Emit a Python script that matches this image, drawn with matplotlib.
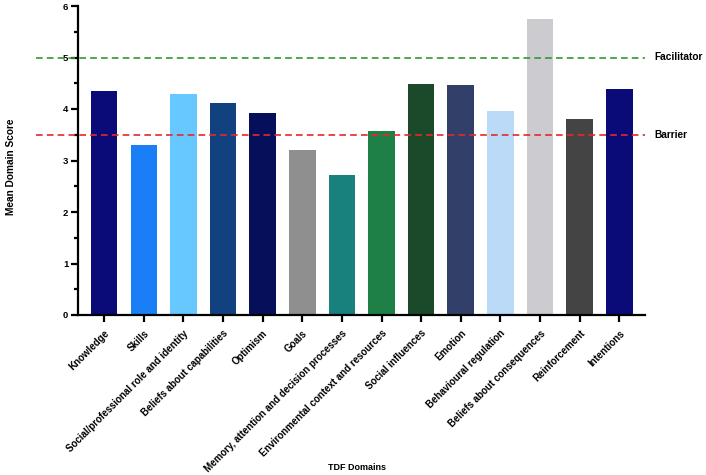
import numpy as np
import matplotlib.pyplot as plt
from matplotlib.ticker import MultipleLocator
from matplotlib.transforms import ScaledTranslation

plt.rcParams['font.family'] = ['Liberation Sans', 'DejaVu Sans']
plt.rcParams['font.weight'] = 'bold'

# TDF domains and mean scores
domains = ['Knowledge', 'Skills', 'Social/professional role and identity',
           'Beliefs about capabilities', 'Optimism', 'Goals',
           'Memory, attention and decision processes',
           'Environmental context and resources', 'Social influences',
           'Emotion', 'Behavioural regulation', 'Beliefs about consequences',
           'Reinforcement', 'Intentions']
scores = [4.35, 3.31, 4.29, 4.11, 3.92, 3.20, 2.72, 3.57, 4.49, 4.47,
          3.96, 5.74, 3.81, 4.38]
colors = ['#0a0a78', '#1a7ff7', '#66c8ff', '#11417f', '#06105a', '#8f8f8f',
          '#18807d', '#1e7f47', '#1a4a2a', '#323f68', '#badaf7', '#cbcbd0',
          '#444444', '#0a0a78']

facilitator = 5.0
barrier = 3.5

fig = plt.figure(figsize=(7.06, 4.75), dpi=100)
ax = fig.add_axes([78/706, 1 - 315/475, 567/706, 309/475])

x = np.arange(len(domains))
ax.bar(x, scores, width=0.67, color=colors, zorder=2)

# threshold lines, extended a bit left of the y axis like the original
ax.axhline(facilitator, xmin=-0.074, xmax=1, color='#2e9a2e', ls=(0, (4, 2.5)),
           lw=1.2, clip_on=False, zorder=3)
ax.axhline(barrier, xmin=-0.074, xmax=1, color='#e8262a', ls=(0, (4, 2.5)),
           lw=1.2, clip_on=False, zorder=3)
ax.text(1.016, facilitator, 'Facilitator', transform=ax.get_yaxis_transform(),
        va='center', ha='left', fontsize=7.3, fontweight='bold')
ax.text(1.016, barrier, 'Barrier', transform=ax.get_yaxis_transform(),
        va='center', ha='left', fontsize=7.3, fontweight='bold')

ax.set_xlim(-0.66, 13.65)
ax.set_ylim(0, 6)
ax.yaxis.set_major_locator(MultipleLocator(1))
ax.yaxis.set_minor_locator(MultipleLocator(0.5))

ax.set_xticks(x)
ax.set_xticklabels(domains, rotation=45, ha='right', va='top',
                   rotation_mode='anchor', fontsize=7.0, fontweight='bold')
shift = ScaledTranslation(-3/100, 0, fig.dpi_scale_trans)
for lab in ax.get_xticklabels():
    lab.set_transform(lab.get_transform() + shift)
for lab in ax.get_yticklabels():
    lab.set_fontsize(6.8)
    lab.set_fontweight('bold')

ax.spines['top'].set_visible(False)
ax.spines['right'].set_visible(False)
ax.spines['left'].set_linewidth(1.6)
ax.spines['bottom'].set_linewidth(1.6)
ax.tick_params(axis='both', which='major', length=5, width=1.6, pad=2)
ax.tick_params(axis='x', which='major', pad=4.5)
ax.tick_params(axis='y', which='minor', length=3, width=1.6)

fig.text(11/706, 1 - 167/475, 'Mean Domain Score', rotation=90, ha='center',
         va='center', fontsize=7.3, fontweight='bold')
fig.text(357/706, 1 - 467/475, 'TDF Domains', ha='center', va='center',
         fontsize=6.5, fontweight='bold')

fig.savefig('out.png', dpi=100)
